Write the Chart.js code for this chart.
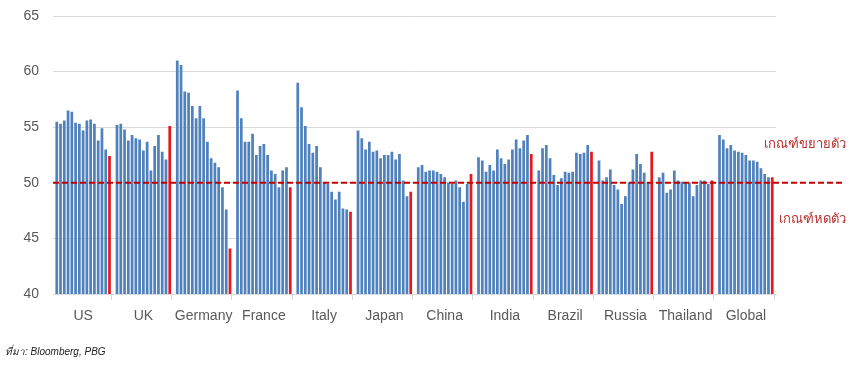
<!DOCTYPE html>
<html>
<head>
<meta charset="utf-8">
<script src="https://cdn.jsdelivr.net/npm/chart.js@4.4.0/dist/chart.umd.min.js"></script>
<style>
  html, body { margin: 0; padding: 0; background: #fff; }
  #wrap { position: relative; width: 859px; height: 371px; }
</style>
</head>
<body>
<div id="wrap"><canvas id="pmiCanvas" width="859" height="371"></canvas></div>
<script>
// PMI ภาคการผลิต รายประเทศ (แท่งสุดท้ายของแต่ละกลุ่ม = เดือนล่าสุด)
const countries = ["US", "UK", "Germany", "France", "Italy", "Japan", "China", "India", "Brazil", "Russia", "Thailand", "Global"];
const us = [55.5, 55.3, 55.6, 56.5, 56.4, 55.4, 55.3, 54.7, 55.6, 55.7, 55.3, 53.8, 54.9, 53.0, 52.4];
const uk = [55.2, 55.3, 54.8, 53.8, 54.3, 54.0, 53.9, 52.9, 53.7, 51.1, 53.3, 54.3, 52.8, 52.1, 55.1];
const germany = [61.0, 60.6, 58.2, 58.1, 56.9, 55.8, 56.9, 55.8, 53.7, 52.2, 51.8, 51.4, 49.6, 47.6, 44.1];
const france = [58.3, 55.8, 53.7, 53.7, 54.4, 52.5, 53.3, 53.5, 52.5, 51.1, 50.8, 49.6, 51.1, 51.4, 49.6];
const italy = [59.0, 56.8, 55.1, 53.5, 52.7, 53.3, 51.4, 50.0, 49.9, 49.2, 48.5, 49.2, 47.7, 47.6, 47.4];
const japan = [54.7, 54.0, 53.0, 53.7, 52.8, 52.9, 52.2, 52.5, 52.5, 52.8, 52.1, 52.6, 50.2, 48.8, 49.2];
const china = [51.4, 51.6, 51.0, 51.1, 51.1, 51.0, 50.8, 50.5, 50.0, 49.9, 50.2, 49.6, 48.3, 49.9, 50.8];
const india = [52.3, 52.0, 51.0, 51.6, 51.1, 53.0, 52.2, 51.7, 52.1, 53.0, 53.9, 53.1, 53.8, 54.3, 52.6];
const brazil = [51.1, 53.1, 53.4, 52.2, 50.7, 49.8, 50.4, 51.0, 50.9, 51.0, 52.7, 52.6, 52.7, 53.4, 52.8];
const russia = [52.0, 50.2, 50.5, 51.2, 49.8, 49.4, 48.1, 48.8, 50.0, 51.2, 52.6, 51.7, 50.9, 50.0, 52.8];
const thailand = [50.5, 50.9, 49.1, 49.4, 51.1, 50.2, 50.1, 50.0, 50.0, 48.8, 49.8, 50.2, 50.2, 49.9, 50.2];
const globalPmi = [54.3, 53.9, 53.1, 53.4, 52.9, 52.8, 52.7, 52.5, 52.0, 52.0, 51.9, 51.3, 50.8, 50.5, 50.5];
const groups = [us, uk, germany, france, italy, japan, china, india, brazil, russia, thailand, globalPmi];

const threshold = 50;
const yTicks = [40, 45, 50, 55, 60, 65];
const upLabel = "เกณฑ์ขยายตัว";
const downLabel = "เกณฑ์หดตัว";
const sourceNote = "ที่มา: Bloomberg, PBG";

const blue = "#4f81bd";
const red = "#e8171c";
const slot = 16; // 15 months + one empty slot between countries

// flatten groups: blank slot at every boundary, country name under the middle bar
let labels = [""];
let values = [null];
let colors = [blue];
groups.forEach((g, gi) => {
    g.forEach((v, i) => {
        labels.push(i === 7 ? countries[gi] : "");
        values.push(v);
        colors.push(i === g.length - 1 ? red : blue);
    });
    labels.push("");
    values.push(null);
    colors.push(blue);
});

const notes = {
    id: "notes",
    afterDatasetsDraw(chart) {
        const ctx = chart.ctx;
        const area = chart.chartArea;
        const y = chart.scales.y.getPixelForValue(threshold);
        ctx.save();
        ctx.strokeStyle = "#c00000";
        ctx.lineWidth = 2;
        ctx.setLineDash([6, 3]);
        ctx.beginPath();
        ctx.moveTo(area.left, y);
        ctx.lineTo(843, y);
        ctx.stroke();
        ctx.setLineDash([]);

        ctx.fillStyle = "#b8312f";
        ctx.font = "13px 'Noto Sans', 'DejaVu Sans', sans-serif";
        ctx.textAlign = "right";
        ctx.textBaseline = "middle";
        ctx.fillText(upLabel, 846, y - 39);
        ctx.fillText(downLabel, 846, y + 36);

        ctx.fillStyle = "#222";
        ctx.font = "italic 10px 'Liberation Sans', 'Noto Sans', sans-serif";
        ctx.textAlign = "left";
        ctx.fillText(sourceNote, 5, 352);
        ctx.restore();
    }
};

new Chart(document.getElementById("pmiCanvas"), {
    type: "bar",
    data: {
        labels: labels,
        datasets: [{
            data: values,
            backgroundColor: colors,
            categoryPercentage: 1,
            barPercentage: 0.72
        }]
    },
    options: {
        responsive: false,
        animation: false,
        layout: { padding: { top: 16, right: 83, left: 0, bottom: 0 } },
        plugins: {
            legend: { display: false },
            tooltip: { enabled: false }
        },
        scales: {
            x: {
                offset: false,
                afterFit: (scale) => { scale.height = 77; },
                border: { color: "#d9d9d9" },
                grid: {
                    drawOnChartArea: false,
                    tickLength: 6,
                    color: (c) => (c.index % slot === 0 ? "#d9d9d9" : "rgba(0,0,0,0)")
                },
                ticks: {
                    autoSkip: false,
                    maxRotation: 0,
                    minRotation: 0,
                    padding: 8,
                    color: "#595959",
                    font: { size: 14, family: "'Liberation Sans', Arial, sans-serif" },
                    callback: (v, i) => labels[i]
                }
            },
            y: {
                min: yTicks[0],
                max: yTicks[yTicks.length - 1],
                afterFit: (scale) => {
                    scale.width = 53;
                    scale.paddingTop = 0;
                    scale.paddingBottom = 0;
                },
                border: { display: false },
                grid: { color: "#d9d9d9", drawTicks: false },
                ticks: {
                    stepSize: 5,
                    padding: 14,
                    color: "#595959",
                    font: { size: 14, family: "'Liberation Sans', Arial, sans-serif" }
                }
            }
        }
    },
    plugins: [notes]
});
</script>
</body>
</html>
